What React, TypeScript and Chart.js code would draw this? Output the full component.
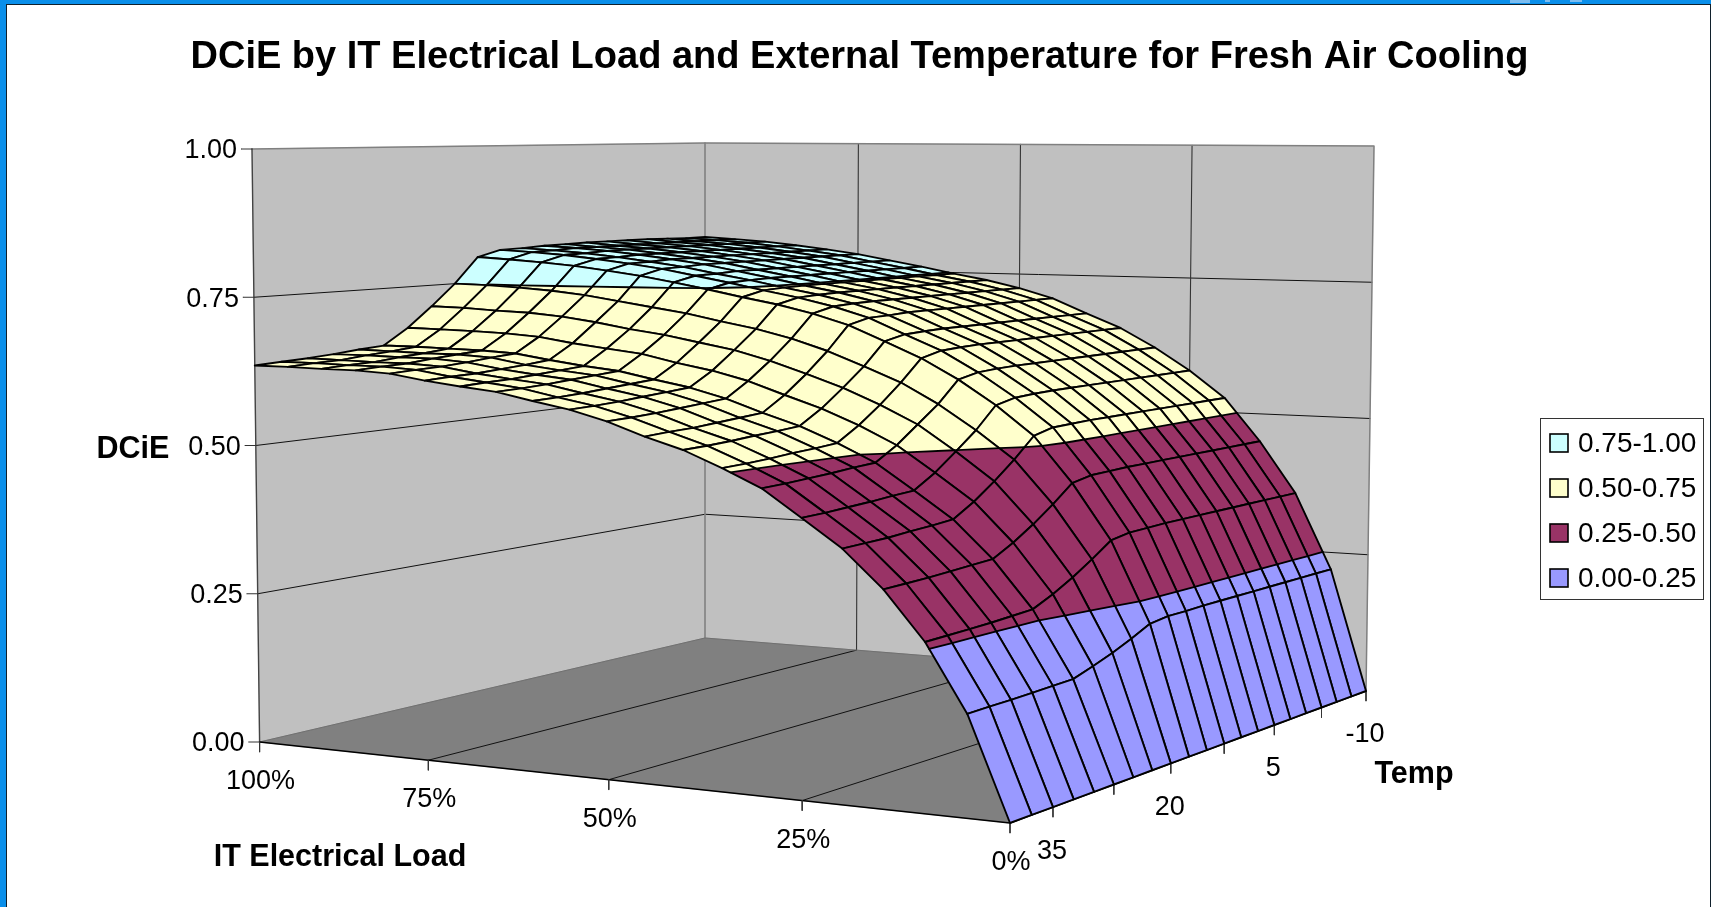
import React, { useEffect, useRef } from "react";
import { Chart, registerables } from "chart.js";

Chart.register(...registerables);

const chartTitle = "DCiE by IT Electrical Load and External Temperature for Fresh Air Cooling";
const loadsPct = [0,5,10,15,20,25,30,35,40,45,50,55,60,65,70,75,80,85,90,95,100];
const tempsC = [40,37.5,35,32.5,30,27.5,25,22.5,20,17.5,15,12.5,10,7.5,5,2.5,0,-2.5,-5,-7.5,-10];
const dcieTicks = [0,0.25,0.5,0.75,1];
const loadTicks = [100,75,50,25,0];
const tempMinorTicks = [35,27.5,20,12.5,5,-2.5,-10];
const tempLabels = [35,20,5,-10];
const bandLabels = ["0.00-0.25","0.25-0.50","0.50-0.75","0.75-1.00"];
const bandColors = ["#9999FF","#993366","#FFFFCC","#CCFFFF"];
const bandEdges = [0,0.25,0.5,0.75,1];

// one row per IT load (0% .. 100%), one column per temperature (40 .. -10)
const dcie = [
  [0,0,0,0,0,0,0,0,0,0,0,0,0,0,0,0,0,0,0,0,0],
  [.157,.158,.158,.159,.160,.161,.172,.184,.198,.214,.218,.218,.219,.219,.219,.219,.219,.219,.219,.219,.219],
  [.260,.261,.262,.263,.265,.267,.283,.302,.324,.348,.354,.355,.356,.356,.356,.356,.356,.356,.356,.356,.356],
  [.335,.336,.337,.339,.341,.343,.362,.385,.411,.440,.447,.448,.449,.449,.449,.449,.449,.449,.449,.449,.449],
  [.393,.394,.395,.398,.400,.403,.425,.452,.482,.516,.525,.526,.527,.527,.527,.527,.527,.527,.527,.527,.527],
  [.436,.437,.439,.441,.444,.446,.469,.498,.528,.565,.573,.575,.576,.576,.576,.576,.576,.576,.576,.576,.576],
  [.478,.479,.481,.483,.486,.488,.511,.540,.569,.606,.614,.616,.617,.617,.617,.617,.617,.617,.617,.617,.617],
  [.506,.507,.509,.512,.514,.517,.541,.570,.603,.640,.649,.651,.652,.652,.652,.652,.652,.652,.652,.652,.652],
  [.531,.532,.534,.537,.539,.542,.566,.596,.628,.667,.675,.677,.678,.678,.678,.678,.678,.678,.678,.678,.678],
  [.549,.551,.552,.555,.558,.561,.586,.617,.652,.693,.702,.703,.705,.705,.705,.705,.705,.705,.705,.705,.705],
  [.570,.571,.573,.576,.579,.582,.607,.637,.671,.711,.720,.722,.723,.723,.723,.723,.723,.723,.723,.723,.723],
  [.586,.587,.589,.592,.595,.598,.622,.653,.686,.725,.734,.736,.737,.737,.737,.737,.737,.737,.737,.737,.737],
  [.597,.598,.600,.603,.606,.609,.633,.664,.697,.736,.745,.747,.748,.748,.748,.748,.748,.748,.748,.748,.748],
  [.609,.610,.612,.615,.618,.621,.646,.675,.709,.748,.757,.759,.760,.760,.760,.760,.760,.760,.760,.760,.760],
  [.615,.617,.618,.621,.624,.627,.653,.683,.718,.759,.768,.769,.771,.771,.771,.771,.771,.771,.771,.771,.771],
  [.622,.624,.625,.628,.631,.635,.660,.693,.727,.769,.779,.780,.782,.782,.782,.782,.782,.782,.782,.782,.782],
  [.631,.633,.634,.637,.641,.644,.669,.701,.736,.777,.787,.788,.790,.790,.790,.790,.790,.790,.790,.790,.790],
  [.634,.636,.637,.641,.644,.647,.673,.706,.742,.784,.794,.795,.797,.797,.797,.797,.797,.797,.797,.797,.797],
  [.634,.636,.637,.641,.644,.648,.675,.708,.746,.789,.800,.801,.803,.803,.803,.803,.803,.803,.803,.803,.803],
  [.635,.637,.638,.642,.645,.649,.676,.711,.749,.793,.804,.805,.807,.807,.807,.807,.807,.807,.807,.807,.807],
  [.635,.637,.639,.642,.646,.649,.677,.712,.750,.796,.807,.808,.810,.811,.812,.812,.812,.812,.811,.810,.810],
];

// view transform of the 3-D box: images of the box corners on the floor and on the lid
const FLOOR_VIEW = [[259.6, 742], [1010, 823], [1366, 691], [705, 638]];
const LID_VIEW = { a: [252, 149], c: [1374, 146], d: [705, 143] };

function makeProjection() {
  const [[x0, y0], [x1, y1], [x2, y2], [x3, y3]] = FLOOR_VIEW;
  const dx1 = x1 - x2, dx2 = x3 - x2, dy1 = y1 - y2, dy2 = y3 - y2;
  const sx = x0 - x1 + x2 - x3, sy = y0 - y1 + y2 - y3;
  const den = dx1 * dy2 - dx2 * dy1;
  const g = (sx * dy2 - dx2 * sy) / den, h = (dx1 * sy - sx * dy1) / den;
  const A = x1 - x0 + g * x1, B = x3 - x0 + h * x3;
  const D = y1 - y0 + g * y1, E = y3 - y0 + h * y3;
  const W_d = 1 + h, W_c = 1 + g + h;
  const rise = (pa: number, pd: number, pc: number) => {
    const alpha = pa;
    const gamma = pd * W_d - alpha;
    const beta = pc * W_c - alpha - gamma;
    return { alpha, beta, gamma };
  };
  const rx = rise(LID_VIEW.a[0] - x0, LID_VIEW.d[0] - x3, LID_VIEW.c[0] - x2);
  const ry = rise(LID_VIEW.a[1] - y0, LID_VIEW.d[1] - y3, LID_VIEW.c[1] - y2);
  return (load: number, temp: number, z: number) => {
    const u = 1 - load / 100, v = (40 - temp) / 50;
    const w = g * u + h * v + 1;
    return {
      x: (A * u + B * v + x0 + z * (rx.alpha + rx.beta * u + rx.gamma * v)) / w,
      y: (D * u + E * v + y0 + z * (ry.alpha + ry.beta * u + ry.gamma * v)) / w,
    };
  };
}

type V = { load: number; temp: number; z: number };

function clipBand(poly: V[], lo: number, hi: number): V[] {
  const clip = (pts: V[], keep: (z: number) => boolean, t: number) => {
    const out: V[] = [];
    pts.forEach((p, i) => {
      const n = pts[(i + 1) % pts.length];
      if (keep(p.z)) out.push(p);
      if (keep(p.z) !== keep(n.z)) {
        const f = (t - p.z) / (n.z - p.z);
        out.push({ load: p.load + (n.load - p.load) * f, temp: p.temp + (n.temp - p.temp) * f, z: t });
      }
    });
    return out;
  };
  return clip(clip(poly, (z) => z >= lo, lo), (z) => z <= hi, hi);
}

function crossings(poly: V[], t: number): V[] {
  const out: V[] = [];
  poly.forEach((p, i) => {
    const n = poly[(i + 1) % poly.length];
    if ((p.z - t) * (n.z - t) < 0) {
      const f = (t - p.z) / (n.z - p.z);
      out.push({ load: p.load + (n.load - p.load) * f, temp: p.temp + (n.temp - p.temp) * f, z: t });
    }
  });
  return out;
}

const WALL = "#C0C0C0", FLOOR = "#808080", EDGE = "#808080", INK = "#000000";
const TITLE_FONT = 38, TITLE_PAD = 35;
const TITLE_H = TITLE_FONT * 1.2 + TITLE_PAD;
const FACE = '"Liberation Sans", Arial, sans-serif';

export default function App() {
  const ref = useRef<HTMLCanvasElement | null>(null);
  useEffect(() => {
    const project = makeProjection();
    const layers: any[] = [];
    const pts = (vs: [number, number, number][]) => vs.map(([l, t, z]) => project(l, t, z));
    const fillShape = (data: any[], color: string, stroke = color, lw = 0.6) =>
      layers.push({ data: [...data, data[0]], showLine: true, fill: "shape", backgroundColor: color, borderColor: stroke, borderWidth: lw, pointRadius: 0, tension: 0, borderJoinStyle: "round", clip: false });
    const line = (data: any[], color: string, lw: number) =>
      layers.push({ data, showLine: true, fill: false, borderColor: color, borderWidth: lw, pointRadius: 0, tension: 0, borderJoinStyle: "round", borderCapStyle: "round", clip: false });

    // walls and floor
    fillShape(pts([[100,40,0],[100,-10,0],[100,-10,1],[100,40,1]]), WALL);
    fillShape(pts([[100,-10,0],[0,-10,0],[0,-10,1],[100,-10,1]]), WALL);
    fillShape(pts([[100,40,0],[0,40,0],[0,-10,0],[100,-10,0]]), FLOOR);
    for (const v of dcieTicks.slice(1, 4)) {
      line(pts([[100,40,v],[100,-10,v],[0,-10,v]]), "#111111", 1);
    }
    for (const l of loadTicks.slice(1, 4)) {
      line(pts([[l,40,0],[l,-10,0]]), "#111111", 1);
      line(pts([[l,-10,0],[l,-10,1]]), "#333333", 1.1);
    }
    line(pts([[100,40,1],[100,-10,1],[0,-10,1],[0,-10,0]]), EDGE, 1.5);
    line(pts([[100,-10,0],[100,-10,1]]), EDGE, 1.6);
    line(pts([[100,40,0],[100,40,1]]), "#444444", 1.4);
    line(pts([[100,40,0],[100,-10,0],[0,-10,0]]), "#707070", 1);
    line(pts([[100,40,0],[0,40,0],[0,-10,0]]), "#000000", 1.6);

    // axis ticks
    for (const v of dcieTicks) {
      const p = project(100, 40, v);
      line([{ x: p.x - 11, y: p.y }, p], "#333333", 1);
    }
    for (const l of loadTicks) {
      const p = project(l, 40, 0);
      line([p, { x: p.x, y: p.y + 10 }], "#333333", 1);
    }
    for (const t of tempMinorTicks) {
      const p = project(0, t, 0);
      line([p, { x: p.x, y: p.y + 10 }], "#333333", 1);
    }

    // surface, back to front
    for (let i = loadsPct.length - 2; i >= 0; i--) {
      for (let j = tempsC.length - 2; j >= 0; j--) {
        const quad: V[] = [
          { load: loadsPct[i], temp: tempsC[j], z: dcie[i][j] },
          { load: loadsPct[i + 1], temp: tempsC[j], z: dcie[i + 1][j] },
          { load: loadsPct[i + 1], temp: tempsC[j + 1], z: dcie[i + 1][j + 1] },
          { load: loadsPct[i], temp: tempsC[j + 1], z: dcie[i][j + 1] },
        ];
        bandColors.forEach((c, b) => {
          const part = clipBand(quad, bandEdges[b], bandEdges[b + 1]);
          if (part.length >= 3) fillShape(part.map((p) => project(p.load, p.temp, p.z)), c);
        });
        for (const t of bandEdges.slice(1, 4)) {
          const cr = crossings(quad, t);
          if (cr.length >= 2) line(cr.slice(0, 2).map((p) => project(p.load, p.temp, p.z)), INK, 1.8);
        }
        const outline = quad.map((p) => project(p.load, p.temp, p.z));
        line([...outline, outline[0]], INK, 1.9);
      }
    }

    const text = (ctx: CanvasRenderingContext2D, s: string, x: number, y: number, font: string, align: CanvasTextAlign = "center") => {
      ctx.font = font;
      ctx.fillStyle = "#000";
      ctx.textAlign = align;
      ctx.textBaseline = "middle";
      ctx.fillText(s, x, y);
    };

    const decor = {
      id: "decor",
      beforeDraw(chart: any) {
        const { ctx, width, height } = chart;
        ctx.save();
        ctx.fillStyle = "#0A8FEA";
        ctx.fillRect(0, 0, width, height);
        ctx.fillStyle = "#7DBDF0";
        ctx.fillRect(1510, 0, 20, 3);
        ctx.fillRect(1545, 0, 5, 2);
        ctx.fillRect(1570, 0, 12, 2);
        ctx.fillStyle = "#FFFFFF";
        ctx.fillRect(6, 4, width - 7, height - 4);
        ctx.fillStyle = "#10202C";
        ctx.fillRect(6, 4, width - 6, 1);
        ctx.fillRect(6, 4, 1, height - 4);
        ctx.fillRect(width - 1, 4, 1, height - 4);
        ctx.restore();
      },
      afterDraw(chart: any) {
        const { ctx, scales } = chart;
        const px = (p: { x: number; y: number }) => ({ x: scales.x.getPixelForValue(p.x), y: scales.y.getPixelForValue(p.y) });
        const reg = `27px ${FACE}`, bold = `bold 30.5px ${FACE}`;
        ctx.save();
        for (const v of dcieTicks) {
          const p = px(project(100, 40, v));
          text(ctx, v.toFixed(2), p.x - 15, p.y + 2, reg, "right");
        }
        for (const l of loadTicks) {
          const p = px(project(l, 40, 0));
          text(ctx, `${l}%`, p.x + 1, p.y + 39.5, reg);
        }
        for (const t of tempLabels) {
          const p = px(project(0, t, 0));
          text(ctx, `${t}`, p.x - 1, p.y + 44, reg);
        }
        text(ctx, "DCiE", 133, 450, bold);
        text(ctx, "IT Electrical Load", 340, 858, bold);
        text(ctx, "Temp", 1414, 775, bold);

        // legend
        ctx.fillStyle = "#FFFFFF";
        ctx.strokeStyle = "#333333";
        ctx.lineWidth = 1;
        ctx.fillRect(1540.5, 418.5, 163, 181);
        ctx.strokeRect(1540.5, 418.5, 163, 181);
        [3, 2, 1, 0].forEach((b, k) => {
          const cy = 443 + k * 45;
          ctx.fillStyle = bandColors[b];
          ctx.fillRect(1550, cy - 9, 18, 18);
          ctx.strokeStyle = "#000";
          ctx.lineWidth = 1.6;
          ctx.strokeRect(1550, cy - 9, 18, 18);
          text(ctx, bandLabels[b], 1578, cy + 1, `28px ${FACE}`, "left");
        });
        ctx.restore();
      },
    };

    const chart = new Chart(ref.current as HTMLCanvasElement, {
      type: "scatter",
      data: { datasets: layers.reverse() },
      options: {
        animation: false,
        responsive: false,
        events: [],
        layout: { padding: { left: 8, right: 0, top: 0, bottom: 0 } },
        scales: {
          x: { type: "linear", display: false, min: 8, max: 1711 },
          y: { type: "linear", display: false, min: TITLE_H, max: 907, reverse: true },
        },
        plugins: {
          legend: { display: false },
          tooltip: { enabled: false },
          title: {
            display: true,
            text: chartTitle,
            color: "#000",
            font: { family: FACE, size: TITLE_FONT, weight: "bold", lineHeight: 1.2 },
            padding: { top: TITLE_PAD, bottom: 0 },
          },
        },
      },
      plugins: [decor],
    } as any);
    return () => chart.destroy();
  }, []);
  return <canvas ref={ref} width={1711} height={907} style={{ position: "fixed", left: 0, top: 0, display: "block" }} />;
}
